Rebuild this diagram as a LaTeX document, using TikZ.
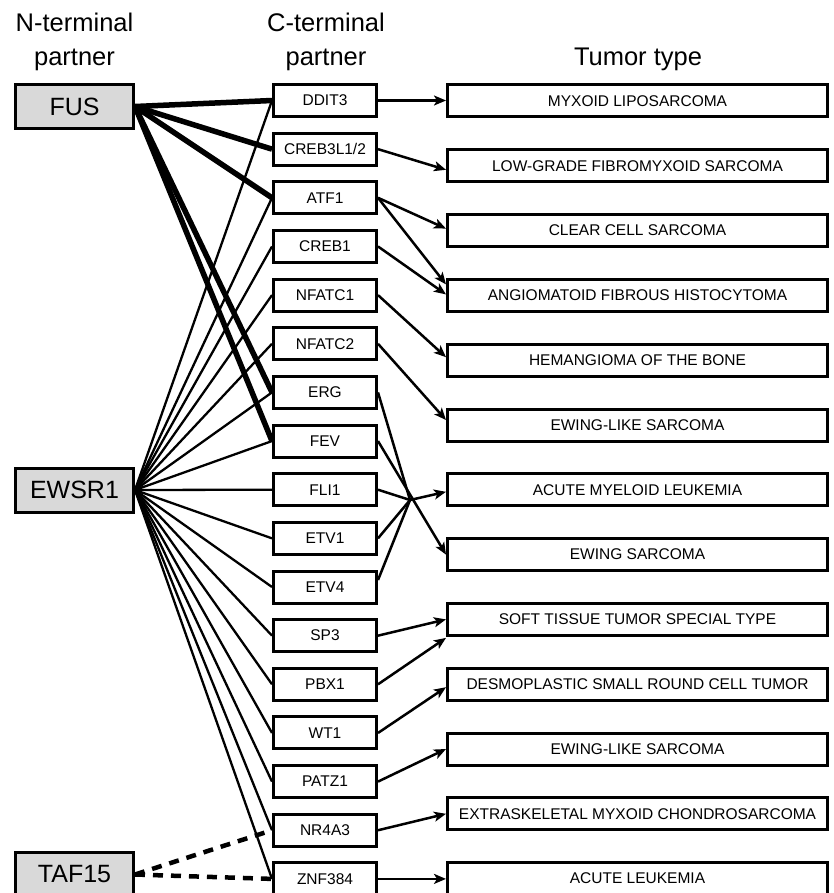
\documentclass[tikz,border=0pt]{standalone}
\usepackage{fontspec}
\setmainfont{Liberation Sans}
\usetikzlibrary{arrows.meta,calc}
\definecolor{boxgray}{HTML}{D9D9D9}
\begin{document}
\begin{tikzpicture}[x=1pt,y=-1pt,
  nbox/.style={draw,line width=3pt,fill=boxgray,minimum width=118pt,minimum height=44pt,inner sep=0pt,font=\fontsize{25}{30}\selectfont},
  cbox/.style={draw,line width=3pt,fill=white,minimum width=103pt,minimum height=32pt,inner sep=0pt,font=\fontsize{15.5}{18}\selectfont},
  tbox/.style={draw,line width=3pt,fill=white,minimum width=380pt,minimum height=32pt,inner sep=0pt,font=\fontsize{15.5}{18}\selectfont},
  head/.style={anchor=base,font=\fontsize{25.5}{30}\selectfont,inner sep=0pt},
  fuslink/.style={line width=5.5pt},
  ewslink/.style={line width=2.3pt},
  taflink/.style={line width=4.5pt,dash pattern=on 10pt off 8pt},
  arr/.style={line width=2.5pt,-{Stealth[length=12pt,width=10pt,inset=3pt]}},
]
\useasboundingbox (0,0) rectangle (834,893);
% headers
\node[head] (h1a) at (74.5,32) {N-terminal};
\node[head] (h1b) at (74.5,66) {partner};
\node[head] (h2a) at (326,32) {C-terminal};
\node[head] (h2b) at (326,66) {partner};
\node[head] (h3) at (638,66) {Tumor type};
% N-terminal boxes
\node[nbox] (FUS) at (74.5,106.5) {FUS};
\node[nbox] (EWS) at (74.5,490) {EWSR1};
\node[nbox] (TAF) at (74.5,874.5) {TAF15};
% C-terminal boxes
\foreach \lab [count=\i from 0] in {DDIT3,CREB3L1/2,ATF1,CREB1,NFATC1,NFATC2,ERG,FEV,FLI1,ETV1,ETV4,SP3,PBX1,WT1,PATZ1,NR4A3,ZNF384}
  \node[cbox] (c\i) at (325,{100.5+48.65*\i}) {\lab};
% Tumor boxes
\foreach \lab [count=\i from 0] in {MYXOID LIPOSARCOMA,LOW-GRADE FIBROMYXOID SARCOMA,CLEAR CELL SARCOMA,ANGIOMATOID FIBROUS HISTOCYTOMA,HEMANGIOMA OF THE BONE,EWING-LIKE SARCOMA,ACUTE MYELOID LEUKEMIA,EWING SARCOMA,SOFT TISSUE TUMOR SPECIAL TYPE,DESMOPLASTIC SMALL ROUND CELL TUMOR,EWING-LIKE SARCOMA,EXTRASKELETAL MYXOID CHONDROSARCOMA,ACUTE LEUKEMIA}
  \node[tbox] (t\i) at (637.5,{101+64.8*\i}) {\lab};
% FUS links
\foreach \k in {0,1,2,6,7}
  \draw[fuslink] (FUS.east) -- (c\k.west);
% EWSR1 links
\foreach \k in {0,2,3,4,5,6,7,8,9,10,11,12,13,14,15,16}
  \draw[ewslink] (EWS.east) -- (c\k.west);
% TAF15 links
\draw[taflink] (TAF.east) -- (c15.west);
\draw[taflink] (TAF.east) -- (c16.west);
% junction
\coordinate (J) at (410,500);
% arrows to tumor types
\draw[arr] (c0.east) -- (c0.east -| t0.west);
\draw[arr] (c1.east) -- ($(t1.west)+(0,4)$);
\draw[arr] (c2.east) -- ($(t2.west)+(0,-2)$);
\draw[arr] (c2.east) -- ($(t3.west)+(0,-11)$);
\draw[arr] (c3.east) -- ($(t3.west)+(0,-1)$);
\draw[arr] (c4.east) -- ($(t4.west)+(0,-3)$);
\draw[arr] (c5.east) -- ($(t5.west)+(0,-5)$);
\draw[line width=2.5pt] (c6.east) -- (J);
\draw[line width=2.5pt] (c8.east) -- (J);
\draw[line width=2.5pt] (c9.east) -- (J);
\draw[line width=2.5pt] ($(c10.east)+(0,-7)$) -- (J);
\draw[arr] (J) -- ($(t6.west)+(0,2)$);
\draw[arr] (c7.east) -- (t7.west);
\draw[arr] (c11.east) -- (t8.west);
\draw[arr] (c12.east) -- ($(t8.south west)+(0,1)$);
\draw[arr] (c13.east) -- ($(t9.west)+(0,3)$);
\draw[arr] (c14.east) -- (t10.west);
\draw[arr] (c15.east) -- (t11.west);
\draw[arr] (c16.east) -- (c16.east -| t12.west);
\end{tikzpicture}
\end{document}
